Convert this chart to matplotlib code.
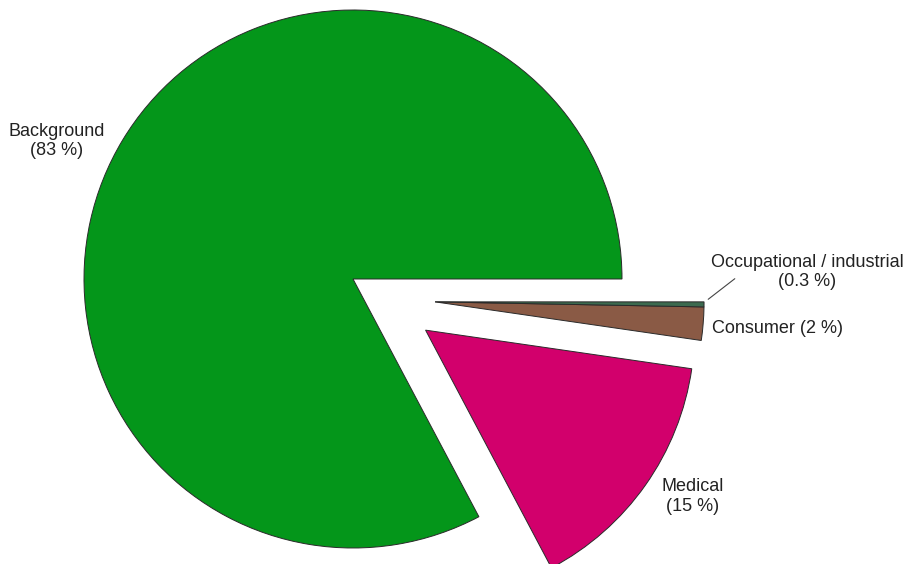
import matplotlib
matplotlib.use("Agg")
import matplotlib.pyplot as plt

# Share of annual radiation dose by source
categories = ["Background", "Medical", "Consumer", "Occupational / industrial"]
shares = [83, 15, 2, 0.3]
share_labels = ["83 %", "15 %", "2 %", "0.3 %"]
colors = ["#04961a", "#d2006c", "#8a5a45", "#3c6a4f"]

W, H, DPI = 905, 564, 100
fig = plt.figure(figsize=(W / DPI, H / DPI), dpi=DPI)
ax = fig.add_axes([0, 0, 1, 1])

wedges, _ = ax.pie(
    shares,
    colors=colors,
    startangle=0,
    counterclock=True,
    explode=[0, 0.33, 0, 0],
    wedgeprops=dict(edgecolor="#2a2a2a", linewidth=0.7),
)

# The two small slices are pulled out together as one block
block_shift = (0.305, -0.085)
for w in wedges[2:]:
    w.set_center(block_shift)

# Axis window: pie radius 1 drawn at 269 px, centred at pixel (353, 279)
r_px, cx, cy = 269.0, 353.0, 279.0
ax.set_xlim(-cx / r_px, (W - cx) / r_px)
ax.set_ylim(-(H - cy) / r_px, cy / r_px)
ax.set_aspect("auto")
ax.axis("off")

txt = dict(fontsize=13, color="#222222", family="Liberation Sans",
           linespacing=1.2, transform=fig.transFigure)
ax.text(0.063, 0.75, f"{categories[0]}\n({share_labels[0]})",
        ha="center", va="center", **txt)
ax.text(0.765, 0.12, f"{categories[1]}\n({share_labels[1]})",
        ha="center", va="center", **txt)
ax.text(0.787, 0.418, f"{categories[2]} ({share_labels[2]})",
        ha="left", va="center", **txt)
ax.text(0.892, 0.518, f"{categories[3]}\n({share_labels[3]})",
        ha="center", va="center", **txt)

# Leader line for the thinnest slice
ax.annotate("", xy=(706, H - 301), xycoords="figure pixels",
            xytext=(737, H - 277), textcoords="figure pixels",
            arrowprops=dict(arrowstyle="-", color="#444444", lw=0.8))

fig.savefig("out.png", dpi=DPI)
